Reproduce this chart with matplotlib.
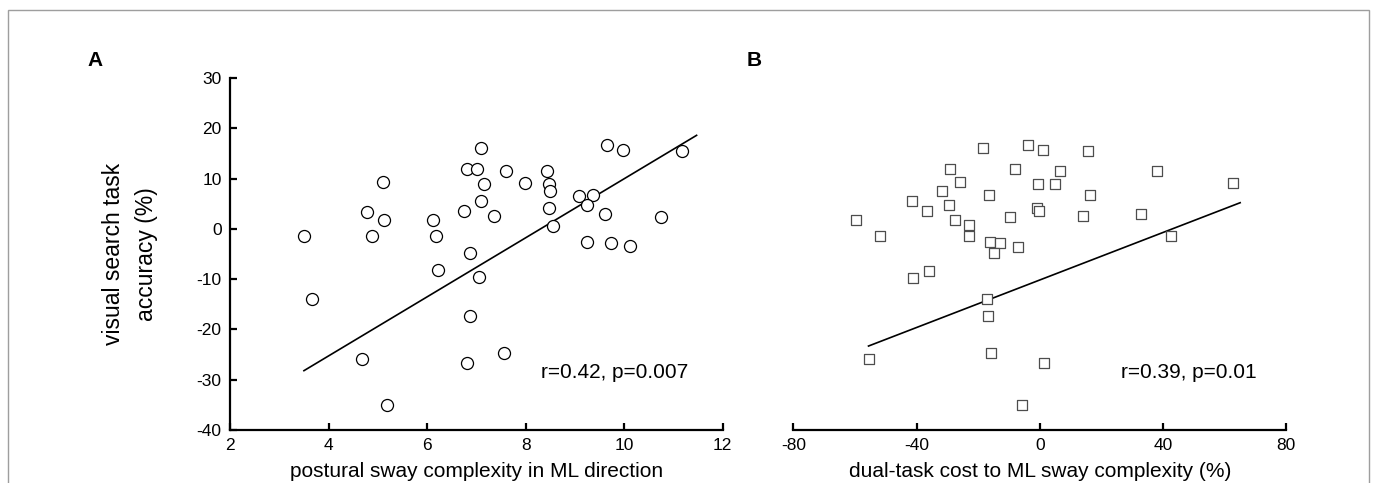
import matplotlib
matplotlib.use("Agg")
import matplotlib.pyplot as plt
from matplotlib.patches import Rectangle

plt.rcParams["font.family"] = ["Liberation Sans", "DejaVu Sans"]
plt.rcParams["axes.unicode_minus"] = False

# ── panel A: sway complexity vs accuracy ─────────────────────────
sway_a = [3.50, 3.67, 4.77, 5.11, 5.12, 4.89, 6.11, 6.19, 6.23, 4.68, 5.19,
          6.75, 6.80, 7.01, 7.10, 7.15, 7.10, 7.36, 6.88, 7.05, 6.88, 6.81,
          7.56, 7.60, 7.98, 8.44, 8.47, 8.50, 8.47, 8.56, 9.09, 9.37, 9.25,
          9.61, 9.25, 9.73, 10.12, 9.65, 9.97, 10.75, 11.17]
acc_a = [-1.4, -14.0, 3.4, 9.4, 1.8, -1.35, 1.8, -1.5, -8.2, -25.9, -35.0,
         3.6, 12.0, 12.0, 16.0, 8.9, 5.5, 2.5, -4.7, -9.6, -17.3, -26.6,
         -24.7, 11.5, 9.1, 11.6, 8.9, 7.5, 4.2, 0.6, 6.5, 6.7, 4.8,
         2.9, -2.7, -2.9, -3.5, 16.6, 15.6, 2.4, 15.5]
line_a_x = [3.5, 11.47]
line_a_y = [-28.2, 18.6]

# ── panel B: dual-task cost vs accuracy ──────────────────────────
cost_b = [-59.6, -51.8, -55.6, -41.5, -36.5, -41.3, -36.1, -31.7, -29.0,
          -29.4, -25.9, -27.4, -23.1, -23.0, -18.3, -16.5, -16.1, -12.8,
          -15.0, -17.0, -16.9, -15.7, -8.0, -9.5, -7.1, -5.8, -3.7, 1.1,
          -0.5, 5.0, -0.9, -0.1, 1.4, 6.7, 15.6, 16.4, 14.1, 38.1, 32.9,
          42.7, 62.7]
acc_b = [1.8, -1.35, -25.9, 5.5, 3.5, -9.7, -8.3, 7.5, 12.0,
         4.8, 9.4, 1.8, 0.7, -1.35, 16.0, 6.7, -2.6, -2.9,
         -4.7, -14.0, -17.3, -24.7, 12.0, 2.4, -3.6, -35.0, 16.6, 15.6,
         8.9, 8.9, 4.2, 3.6, -26.6, 11.6, 15.5, 6.7, 2.5, 11.5, 2.9,
         -1.5, 9.1]
line_b_x = [-55.6, 65.1]
line_b_y = [-23.3, 5.2]

yticks = [-40, -30, -20, -10, 0, 10, 20, 30]
xticks_a = [2, 4, 6, 8, 10, 12]
xticks_b = [-80, -40, 0, 40, 80]

fig = plt.figure(figsize=(13.75, 4.83), dpi=100)
fig.add_artist(Rectangle((8 / 1375, -0.1), 1361 / 1375, 1.1 - 10 / 483,
                         transform=fig.transFigure, fill=False,
                         edgecolor="0.62", lw=1.0))

ax_a = fig.add_axes([0.1673, 0.1097, 0.3583, 0.7288])
ax_b = fig.add_axes([0.5770, 0.1097, 0.3583, 0.7288])

ax_a.scatter(sway_a, acc_a, s=75, facecolors="white", edgecolors="black",
             linewidths=0.9, zorder=3, clip_on=False)
ax_a.plot(line_a_x, line_a_y, color="black", lw=1.2, zorder=2)
ax_a.set_xlim(2, 12)
ax_a.set_xticks(xticks_a)
ax_a.set_ylim(-40, 30)
ax_a.set_yticks(yticks)
ax_a.set_xlabel("postural sway complexity in ML direction", fontsize=15,
                labelpad=6)
ax_a.set_ylabel("visual search task\naccuracy (%)", fontsize=16.5,
                linespacing=1.55)
ax_a.yaxis.set_label_coords(-0.146, 0.5)
ax_a.text(0.93, 0.162, "r=0.42, p=0.007", transform=ax_a.transAxes,
          ha="right", va="center", fontsize=15)

ax_b.scatter(cost_b, acc_b, s=55, marker="s", facecolors="white",
             edgecolors="0.3", linewidths=0.9, zorder=3, clip_on=False)
ax_b.plot(line_b_x, line_b_y, color="black", lw=1.2, zorder=2)
ax_b.set_xlim(-80, 80)
ax_b.set_xticks(xticks_b)
ax_b.set_ylim(-40, 30)
ax_b.set_yticks([])
ax_b.spines["left"].set_visible(False)
ax_b.set_xlabel("dual-task cost to ML sway complexity (%)", fontsize=15,
                labelpad=6)
ax_b.text(0.9405, 0.162, "r=0.39, p=0.01", transform=ax_b.transAxes,
          ha="right", va="center", fontsize=15)

for ax in (ax_a, ax_b):
    for side in ("top", "right"):
        ax.spines[side].set_visible(False)
    for side in ("left", "bottom"):
        ax.spines[side].set_linewidth(1.6)
    ax.tick_params(direction="in", length=5, width=1.6, labelsize=12.5, pad=6)

fig.text(95 / 1375, 1 - 61 / 483, "A", fontsize=15, fontweight="bold",
         ha="center", va="center")
fig.text(754 / 1375, 1 - 61 / 483, "B", fontsize=15, fontweight="bold",
         ha="center", va="center")

fig.savefig("out.png", dpi=100)
